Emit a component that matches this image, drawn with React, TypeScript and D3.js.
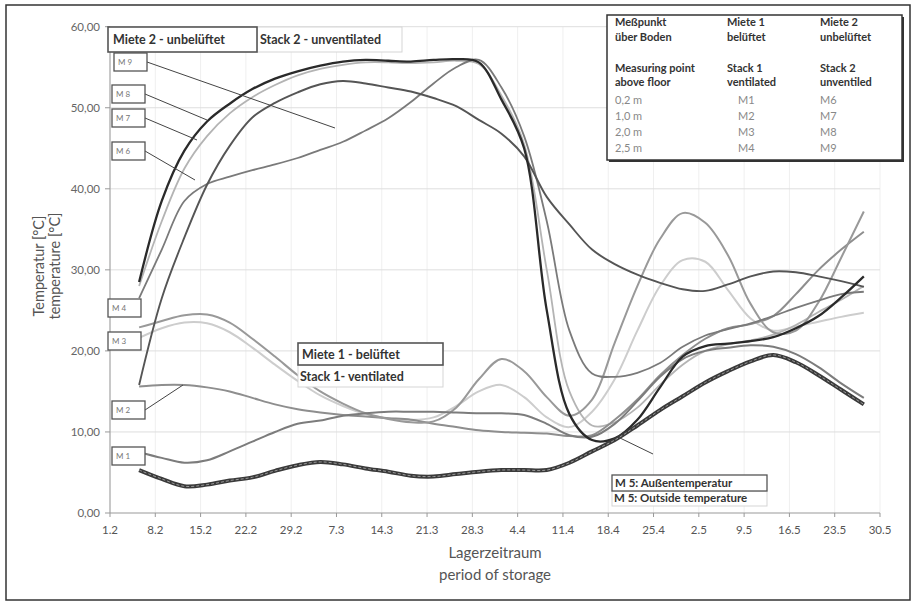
import React from 'react';
import * as d3 from 'd3';

// storage day since 1.2 (one point every 3.5 days)
const days = [4.5, 8, 11.5, 15, 18.5, 22, 25.5, 29, 32.5, 36, 39.5, 43, 46.5, 50, 53.5, 57, 60.5, 64, 67.5, 71, 74.5, 78, 81.5, 85, 88.5, 92, 95.5, 99, 102.5, 106, 109.5, 113, 116.5];

const tickDays = [0, 7, 14, 21, 28, 35, 42, 49, 56, 63, 70, 77, 84, 91, 98, 105, 112, 119];
const tickLabels = ['1.2', '8.2', '15.2', '22.2', '29.2', '7.3', '14.3', '21.3', '28.3', '4.4', '11.4', '18.4', '25.4', '2.5', '9.5', '16.5', '23.5', '30.5'];
const yTicks = [0, 10, 20, 30, 40, 50, 60];

// Miete 1 - belüftet
const m1 = [7.5, 6.8, 6.2, 6.5, 7.6, 8.8, 10.0, 11.0, 11.4, 12.0, 12.3, 12.5, 12.5, 12.5, 12.4, 12.3, 12.3, 12.1, 11.0, 9.6, 9.4, 11.0, 13.8, 16.8, 19.0, 20.0, 20.4, 20.7, 20.5, 19.6, 18.0, 16.0, 14.2];
const m2 = [15.6, 15.8, 15.8, 15.5, 15.0, 14.2, 13.4, 12.8, 12.4, 12.1, 11.9, 11.7, 11.5, 11.0, 10.6, 10.2, 10.0, 9.9, 9.8, 9.5, 9.6, 11.5, 14.0, 17.0, 19.5, 21.5, 22.8, 23.3, 24.3, 27.0, 30.0, 32.5, 34.7];
const m3 = [21.6, 22.8, 23.5, 23.4, 22.3, 20.4, 18.3, 16.3, 14.5, 13.2, 12.2, 11.7, 11.5, 11.8, 13.2, 15.0, 15.8, 14.3, 11.8, 10.6, 12.5, 16.5, 22.5, 28.0, 31.2, 31.0, 27.5, 24.0, 22.5, 23.0, 23.6, 24.2, 24.7];
const m4 = [22.9, 23.7, 24.4, 24.5, 23.5, 21.5, 19.3, 17.0, 15.0, 13.5, 12.3, 11.6, 11.2, 11.3, 13.0, 16.5, 19.0, 17.5, 14.3, 12.0, 14.0, 21.0, 28.0, 33.8, 37.0, 35.8, 31.8, 25.8, 22.3, 22.5, 26.0, 31.5, 37.2];
// M 5: Außentemperatur
const m5 = [5.3, 4.2, 3.3, 3.5, 4.0, 4.4, 5.2, 5.9, 6.3, 6.0, 5.5, 5.1, 4.6, 4.5, 4.8, 5.1, 5.3, 5.3, 5.3, 6.2, 7.6, 9.0, 10.8, 12.7, 14.4, 16.1, 17.5, 18.7, 19.5, 18.6, 17.0, 15.2, 13.4];
// Miete 2 - unbelüftet
const m6 = [26.5, 32.5, 38.5, 40.6, 41.5, 42.3, 43.0, 43.8, 44.8, 45.8, 47.2, 48.7, 50.7, 53.0, 55.0, 55.9, 52.5, 46.5, 36.0, 22.5, 17.2, 16.8, 17.3, 18.5, 20.5, 21.9, 22.7, 23.4, 24.3, 25.3, 26.2, 27.0, 27.3];
const m7 = [28.0, 36.0, 42.5, 46.5, 49.3, 51.3, 52.8, 54.0, 54.8, 55.3, 55.6, 55.6, 55.5, 55.6, 55.8, 55.4, 51.5, 45.5, 30.0, 15.0, 10.8, 11.2, 13.0, 15.8, 18.3, 20.0, 20.8, 21.3, 22.0, 23.2, 24.8, 26.3, 28.0];
const m8 = [28.5, 38.5, 44.7, 48.3, 50.5, 52.3, 53.6, 54.5, 55.2, 55.7, 55.9, 55.8, 55.7, 55.9, 56.0, 55.6, 51.0, 45.0, 25.0, 12.2, 9.0, 9.2, 11.5, 15.5, 19.3, 20.6, 20.9, 21.2, 21.7, 22.8, 24.3, 26.6, 29.2];
const m9 = [15.8, 26.5, 34.0, 40.5, 45.3, 48.8, 50.6, 51.9, 52.9, 53.3, 53.0, 52.5, 52.0, 51.2, 50.2, 48.5, 46.8, 44.0, 39.0, 35.6, 32.5, 30.7, 29.4, 28.4, 27.6, 27.4, 28.2, 29.2, 29.8, 29.7, 29.2, 28.6, 27.9];

const series = [
  { name: 'M3', values: m3, color: '#cdcdcd', width: 2 },
  { name: 'M7', values: m7, color: '#b4b4b4', width: 1.8 },
  { name: 'M2', values: m2, color: '#8e8e8e', width: 2 },
  { name: 'M4', values: m4, color: '#999999', width: 2 },
  { name: 'M1', values: m1, color: '#7c7c7c', width: 2 },
  { name: 'M6', values: m6, color: '#7a7a7a', width: 1.8 },
  { name: 'M9', values: m9, color: '#555555', width: 1.9 },
  { name: 'M8', values: m8, color: '#2a2a2a', width: 2.3 },
];

const W = 917;
const H = 605;
const font = "Lato, 'DejaVu Sans', sans-serif";

const x = d3.scaleLinear().domain([0, 119]).range([110, 880]);
const y = d3.scaleLinear().domain([0, 60]).range([513, 26.7]);

const line = d3.line<number>()
  .x((_, i) => x(days[i]))
  .y(d => y(d))
  .curve(d3.curveCatmullRom.alpha(0.5));

const Box = ({ x0, y0, w, h, stroke, sw }: { x0: number; y0: number; w: number; h: number; stroke: string; sw: number }) => (
  <rect x={x0} y={y0} width={w} height={h} fill="white" stroke={stroke} strokeWidth={sw} />
);

const mLabels = [
  { t: 'M 9', x0: 114, y0: 53, lx: 335, ly: 128 },
  { t: 'M 8', x0: 112, y0: 85, lx: 207, ly: 120 },
  { t: 'M 7', x0: 112, y0: 109, lx: 197, ly: 140 },
  { t: 'M 6', x0: 112, y0: 142, lx: 195, ly: 180 },
  { t: 'M 4', x0: 108, y0: 299, lx: 0, ly: 0 },
  { t: 'M 3', x0: 108, y0: 332, lx: 0, ly: 0 },
  { t: 'M 2', x0: 112, y0: 401, lx: 183, ly: 385 },
  { t: 'M 1', x0: 112, y0: 447, lx: 0, ly: 0 },
];

const tableRows = [
  { c: ['Meßpunkt', 'Miete 1', 'Miete 2'], y0: 26, head: true },
  { c: ['über Boden', 'belüftet', 'unbelüftet'], y0: 41, head: true },
  { c: ['Measuring point', 'Stack 1', 'Stack 2'], y0: 72, head: true },
  { c: ['above floor', 'ventilated', 'unventiled'], y0: 86, head: true },
  { c: ['0,2 m', 'M1', 'M6'], y0: 104, head: false },
  { c: ['1,0 m', 'M2', 'M7'], y0: 120, head: false },
  { c: ['2,0 m', 'M3', 'M8'], y0: 136, head: false },
  { c: ['2,5 m', 'M4', 'M9'], y0: 152, head: false },
];

const App: React.FC = () => {
  return (
    <svg width={W} height={H} style={{ position: 'absolute', left: 0, top: 0, background: 'white' }} fontFamily={font}>
      <rect x={6} y={5} width={904} height={595} fill="white" stroke="#333" strokeWidth={1.5} />

      {/* grid */}
      {tickDays.map(d => (
        <line key={'vg' + d} x1={x(d)} x2={x(d)} y1={y(60)} y2={y(0)} stroke="#efefef" />
      ))}
      {yTicks.map(v => (
        <line key={'hg' + v} x1={x(0)} x2={x(119)} y1={y(v)} y2={y(v)} stroke={v === 0 ? '#999' : '#dedede'} />
      ))}
      <line x1={x(0)} x2={x(0)} y1={y(60)} y2={y(0)} stroke="#999" />

      {/* y axis */}
      {yTicks.map(v => (
        <g key={'yt' + v}>
          <line x1={x(0) - 5} x2={x(0)} y1={y(v)} y2={y(v)} stroke="#999" />
          <text x={100} y={y(v) + 4} textAnchor="end" fontSize={11.5} fill="#666">
            {d3.format('.2f')(v).replace('.', ',')}
          </text>
        </g>
      ))}
      {/* x axis */}
      {tickDays.map((d, i) => (
        <g key={'xt' + d}>
          <line x1={x(d)} x2={x(d)} y1={y(0)} y2={y(0) + 4} stroke="#999" />
          <text x={x(d)} y={534} textAnchor="middle" fontSize={11.5} fill="#555">{tickLabels[i]}</text>
        </g>
      ))}
      <text x={495} y={558} textAnchor="middle" fontSize={15} fill="#555">Lagerzeitraum</text>
      <text x={495} y={580} textAnchor="middle" fontSize={15} fill="#555">period of storage</text>
      <text transform="translate(44,266) rotate(-90)" textAnchor="middle" fontSize={14.5} fill="#555">Temperatur [°C]</text>
      <text transform="translate(60,266) rotate(-90)" textAnchor="middle" fontSize={14.5} fill="#555">temperature [°C]</text>

      {/* series */}
      {series.map(s => (
        <path key={s.name} d={line(s.values) || ''} fill="none" stroke={s.color} strokeWidth={s.width} />
      ))}
      <path d={line(m5) || ''} fill="none" stroke="#3a3a3a" strokeWidth={4} />
      <path d={line(m5) || ''} fill="none" stroke="#9a9a9a" strokeWidth={1} strokeDasharray="3 2" />

      {/* leaders and labels */}
      {mLabels.filter(m => m.lx > 0).map(m => (
        <line key={'ld' + m.t} x1={m.x0 + 33} y1={m.y0 + 9} x2={m.lx} y2={m.ly} stroke="#444" strokeWidth={1} />
      ))}
      <line x1={620} y1={438} x2={653} y2={454} stroke="#444" strokeWidth={1} />
      {mLabels.map(m => (
        <g key={'lb' + m.t}>
          <Box x0={m.x0} y0={m.y0} w={33} h={18} stroke="#555" sw={1.3} />
          <text x={m.x0 + 4} y={m.y0 + 12} fontSize={8} fill="#777">{m.t}</text>
        </g>
      ))}

      <Box x0={257} y0={27} w={145} h={25} stroke="#d5d5d5" sw={1} />
      <text x={260} y={44} fontSize={12.5} fontWeight="bold" fill="#333">Stack 2 - unventilated</text>
      <Box x0={108} y0={27} w={149} h={25} stroke="#555" sw={1.6} />
      <text x={113} y={44} fontSize={12.5} fontWeight="bold" fill="#333">Miete 2 - unbelüftet</text>

      <Box x0={298} y0={365} w={145} h={22} stroke="#d5d5d5" sw={1} />
      <text x={300} y={381} fontSize={12.5} fontWeight="bold" fill="#333">Stack 1- ventilated</text>
      <Box x0={298} y0={343} w={145} h={22} stroke="#555" sw={1.6} />
      <text x={302} y={359} fontSize={12.5} fontWeight="bold" fill="#333">Miete 1 - belüftet</text>

      <Box x0={612} y0={491} w={155} h={15} stroke="#d5d5d5" sw={1} />
      <text x={614} y={502} fontSize={11.5} fontWeight="bold" fill="#333">M 5: Outside temperature</text>
      <Box x0={612} y0={475} w={155} h={16} stroke="#555" sw={1.3} />
      <text x={615} y={487} fontSize={11.5} fontWeight="bold" fill="#333">M 5:  Außentemperatur</text>

      {/* table legend */}
      <rect x={609} y={17} width={295} height={145} fill="#333" />
      <rect x={607} y={15} width={295} height={145} fill="white" stroke="#333" strokeWidth={1.5} />
      {tableRows.map(r => (
        <g key={r.c[0]}>
          <text x={615} y={r.y0} fontSize={11} fontWeight={r.head ? 'bold' : 'normal'} fill={r.head ? '#333' : '#888'}>{r.c[0]}</text>
          <text x={r.head ? 727 : 738} y={r.y0} fontSize={11} fontWeight={r.head ? 'bold' : 'normal'} fill={r.head ? '#333' : '#888'}>{r.c[1]}</text>
          <text x={820} y={r.y0} fontSize={11} fontWeight={r.head ? 'bold' : 'normal'} fill={r.head ? '#333' : '#888'}>{r.c[2]}</text>
        </g>
      ))}
    </svg>
  );
};

export default App;
